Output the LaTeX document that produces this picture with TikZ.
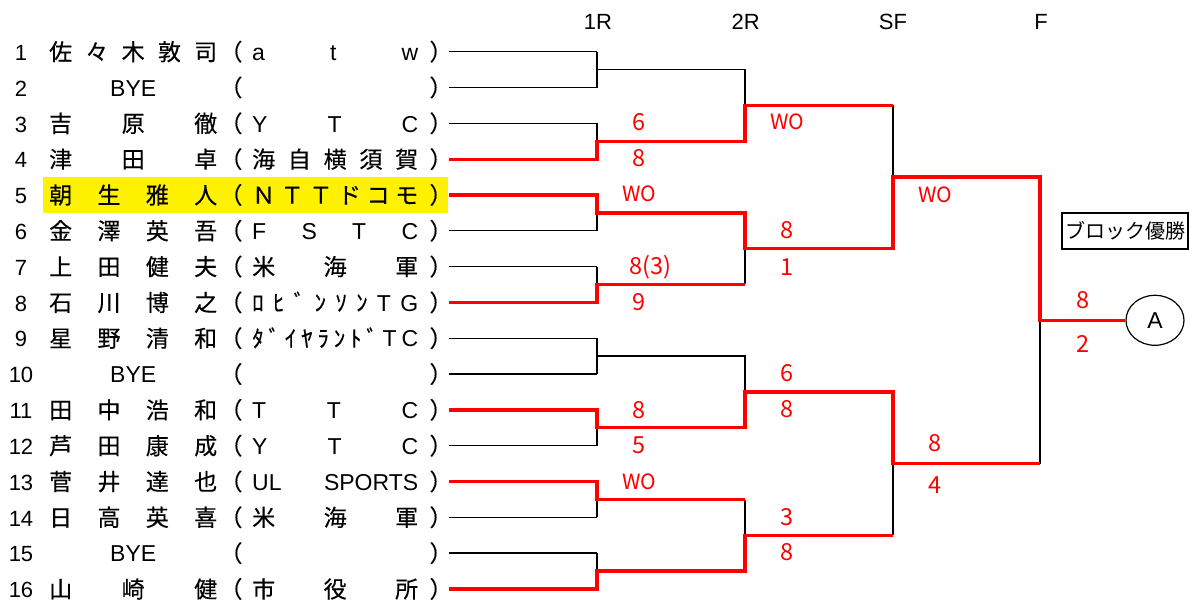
\documentclass[tikz,border=0pt]{standalone}
\usepackage{fontspec}
\setmainfont{Liberation Sans}
\newfontfamily\jp[FakeBold=0.35]{Noto Sans CJK JP}
\newfontfamily\jpn{Noto Sans CJK JP}
\newfontfamily\lat{Liberation Sans}
\newcommand\la[1]{{\lat #1}}
\usetikzlibrary{shapes.geometric}
\tikzset{
  txt/.style={inner sep=0pt, text height=20.2pt, text depth=2.8pt, font=\fontsize{23}{23}\selectfont},
  num/.style={txt, font=\fontsize{22}{22}\selectfont},
  hd/.style={txt, font=\fontsize{22}{22}\selectfont},
  sc/.style={inner sep=0pt, text=red, text height=19pt, text depth=2.2pt, font=\jpn\fontsize{23.5}{23.5}\selectfont},
  wo/.style={inner sep=0pt, text=red, text height=17pt, text depth=2.4pt, font=\jpn\fontsize{21}{21}\selectfont},
  blk/.style={draw=black, line width=1.4pt},
  win/.style={draw=red, line width=3.3pt, line join=miter},
}
\begin{document}
\begin{tikzpicture}[x=1pt,y=-1pt]
\useasboundingbox (0,0) rectangle (1189,601);
% highlight of row 5
\fill[yellow] (43,177) rectangle (448,213);
% headers
\node[hd] (h1) at (598,21) {1R};
\node[hd] (h2) at (745.7,21) {2R};
\node[hd] (h3) at (893,21) {SF};
\node[hd] (h4) at (1041,21) {F};
% players
\foreach \i/\nm/\cl in {
 1/{佐\hfill 々\hfill 木\hfill 敦\hfill 司}/{\la{a}\hfill \la{t}\hfill \la{w}},
 2/{\hfill\la{BYE}\hfill}/{\hfill},
 3/{吉\hfill 原\hfill 徹}/{\la{Y}\hfill \la{T}\hfill \la{C}},
 4/{津\hfill 田\hfill 卓}/{海\hfill 自\hfill 横\hfill 須\hfill 賀},
 5/{朝\hfill 生\hfill 雅\hfill 人}/{Ｎ\hfill Ｔ\hfill Ｔ\hfill ド\hfill コ\hfill モ},
 6/{金\hfill 澤\hfill 英\hfill 吾}/{\la{F}\hfill \la{S}\hfill \la{T}\hfill \la{C}},
 7/{上\hfill 田\hfill 健\hfill 夫}/{米\hfill 海\hfill 軍},
 8/{石\hfill 川\hfill 博\hfill 之}/{ﾛ\hfill ﾋ\hfill ﾞ\hfill ﾝ\hfill ｿ\hfill ﾝ\hfill \la{T}\hfill \la{G}},
 9/{星\hfill 野\hfill 清\hfill 和}/{ﾀ\hfill ﾞ\hfill ｲ\hfill ﾔ\hfill ﾗ\hfill ﾝ\hfill ﾄ\hfill ﾞ\hfill \la{T}\hfill \la{C}},
 10/{\hfill\la{BYE}\hfill}/{\hfill},
 11/{田\hfill 中\hfill 浩\hfill 和}/{\la{T}\hfill \la{T}\hfill \la{C}},
 12/{芦\hfill 田\hfill 康\hfill 成}/{\la{Y}\hfill \la{T}\hfill \la{C}},
 13/{菅\hfill 井\hfill 達\hfill 也}/{\la{UL}\hfill \la{SPORTS}},
 14/{日\hfill 高\hfill 英\hfill 喜}/{米\hfill 海\hfill 軍},
 15/{\hfill\la{BYE}\hfill}/{\hfill},
 16/{山\hfill 崎\hfill 健}/{市\hfill 役\hfill 所}}{
  \pgfmathsetmacro\yy{51.7+(\i-1)*35.82}
  \node[num] (no\i) at (21,\yy) {\i};
  \node[txt, anchor=west] (nm\i) at (49,\yy) {\makebox[168pt][s]{\jp\nm}};
  \node[txt] (lp\i) at (231,\yy) {\jp（};
  \node[txt, anchor=west] (cl\i) at (252,\yy) {\makebox[166pt][s]{\jp\cl}};
  \node[txt] (rp\i) at (441,\yy) {\jp）};
  \coordinate (r\i) at (449,\yy);
}
% junctions
\coordinate (m1) at (597,69.6);
\coordinate (m2) at (597,141.2);
\coordinate (m3) at (597,212.9);
\coordinate (m4) at (597,284.5);
\coordinate (m5) at (597,356.2);
\coordinate (m6) at (597,427.8);
\coordinate (m7) at (597,499.5);
\coordinate (m8) at (597,571.1);
\coordinate (q1) at (745,105.4);
\coordinate (q2) at (745,248.7);
\coordinate (q3) at (745,392.0);
\coordinate (q4) at (745,535.3);
\coordinate (s1) at (893,177.0);
\coordinate (s2) at (893,463.6);
\coordinate (f) at (1040,320.3);
% winner circle and block box
\node[txt, ellipse, draw, line width=1.2pt, minimum width=58pt, minimum height=50pt] (A) at (1155,320.3) {A};
\node[draw, line width=1.6pt, minimum width=126pt, minimum height=36pt, inner sep=0pt, font=\jpn\fontsize{20}{20}\selectfont] (champ) at (1125,231) {ブロック優勝};
% black lines
\foreach \i in {1,2,3,6,7,9,10,12,14,15} \draw[blk] (r\i) -- (r\i -| m1);
\draw[blk] (r1 -| m1) -- (r2 -| m1);
\draw[blk] (m1) -- (m1 -| q1) -- (q1);
\draw[blk] (r3 -| m2) -- (m2);
\draw[blk] (m3) -- (r6 -| m3);
\draw[blk] (r7 -| m4) -- (m4);
\draw[blk] (r9 -| m5) -- (r10 -| m5);
\draw[blk] (m5) -- (m5 -| q3) -- (q3);
\draw[blk] (m6) -- (r12 -| m6);
\draw[blk] (m7) -- (r14 -| m7);
\draw[blk] (r15 -| m8) -- (m8);
\draw[blk] (q2) -- (m4 -| q2);
\draw[blk] (m7 -| q4) -- (q4);
\draw[blk] (q1 -| s1) -- (s1);
\draw[blk] (s2) -- (q4 -| s2);
\draw[blk] (f) -- (s2 -| f);
% red winner lines
\draw[win] (r4) -- (r4 -| m2) -- (m2) -- (m2 -| q1) -- (q1) -- (q1 -| s1);
\draw[win] (r5) -- (r5 -| m3) -- (m3) -- (m3 -| q2) -- (q2) -- (q2 -| s1) -- (s1) -- (s1 -| f) -- (f) -- (A);
\draw[win] (r8) -- (r8 -| m4) -- (m4) -- (m4 -| q2);
\draw[win] (r11) -- (r11 -| m6) -- (m6) -- (m6 -| q3) -- (q3) -- (q3 -| s2) -- (s2) -- (s2 -| f);
\draw[win] (r13) -- (r13 -| m7) -- (m7) -- (m7 -| q4);
\draw[win] (r16) -- (r16 -| m8) -- (m8) -- (m8 -| q4) -- (q4) -- (q4 -| s2);
% scores 1R
\node[sc] (a1) at (639,122) {6};
\node[sc] (a2) at (639,158) {8};
\node[wo] (a3) at (639,194) {WO};
\node[sc] (a4) at (650,266) {8(3)};
\node[sc] (a5) at (639,302) {9};
\node[sc] (a6) at (639,410) {8};
\node[sc] (a7) at (639,445) {5};
\node[wo] (a8) at (639,482) {WO};
% scores 2R
\node[wo] (b1) at (787,122) {WO};
\node[sc] (b2) at (787,230) {8};
\node[sc] (b3) at (787,266.7) {1};
\node[sc] (b4) at (787,372.7) {6};
\node[sc] (b5) at (787,409) {8};
\node[sc] (b6) at (787,516.7) {3};
\node[sc] (b7) at (787,552.3) {8};
% scores SF
\node[wo] (c1) at (935,195.7) {WO};
\node[sc] (c2) at (935,443.3) {8};
\node[sc] (c3) at (935,485) {4};
% scores F
\node[sc] (d1) at (1083,300.5) {8};
\node[sc] (d2) at (1083,344) {2};
\end{tikzpicture}
\end{document}
